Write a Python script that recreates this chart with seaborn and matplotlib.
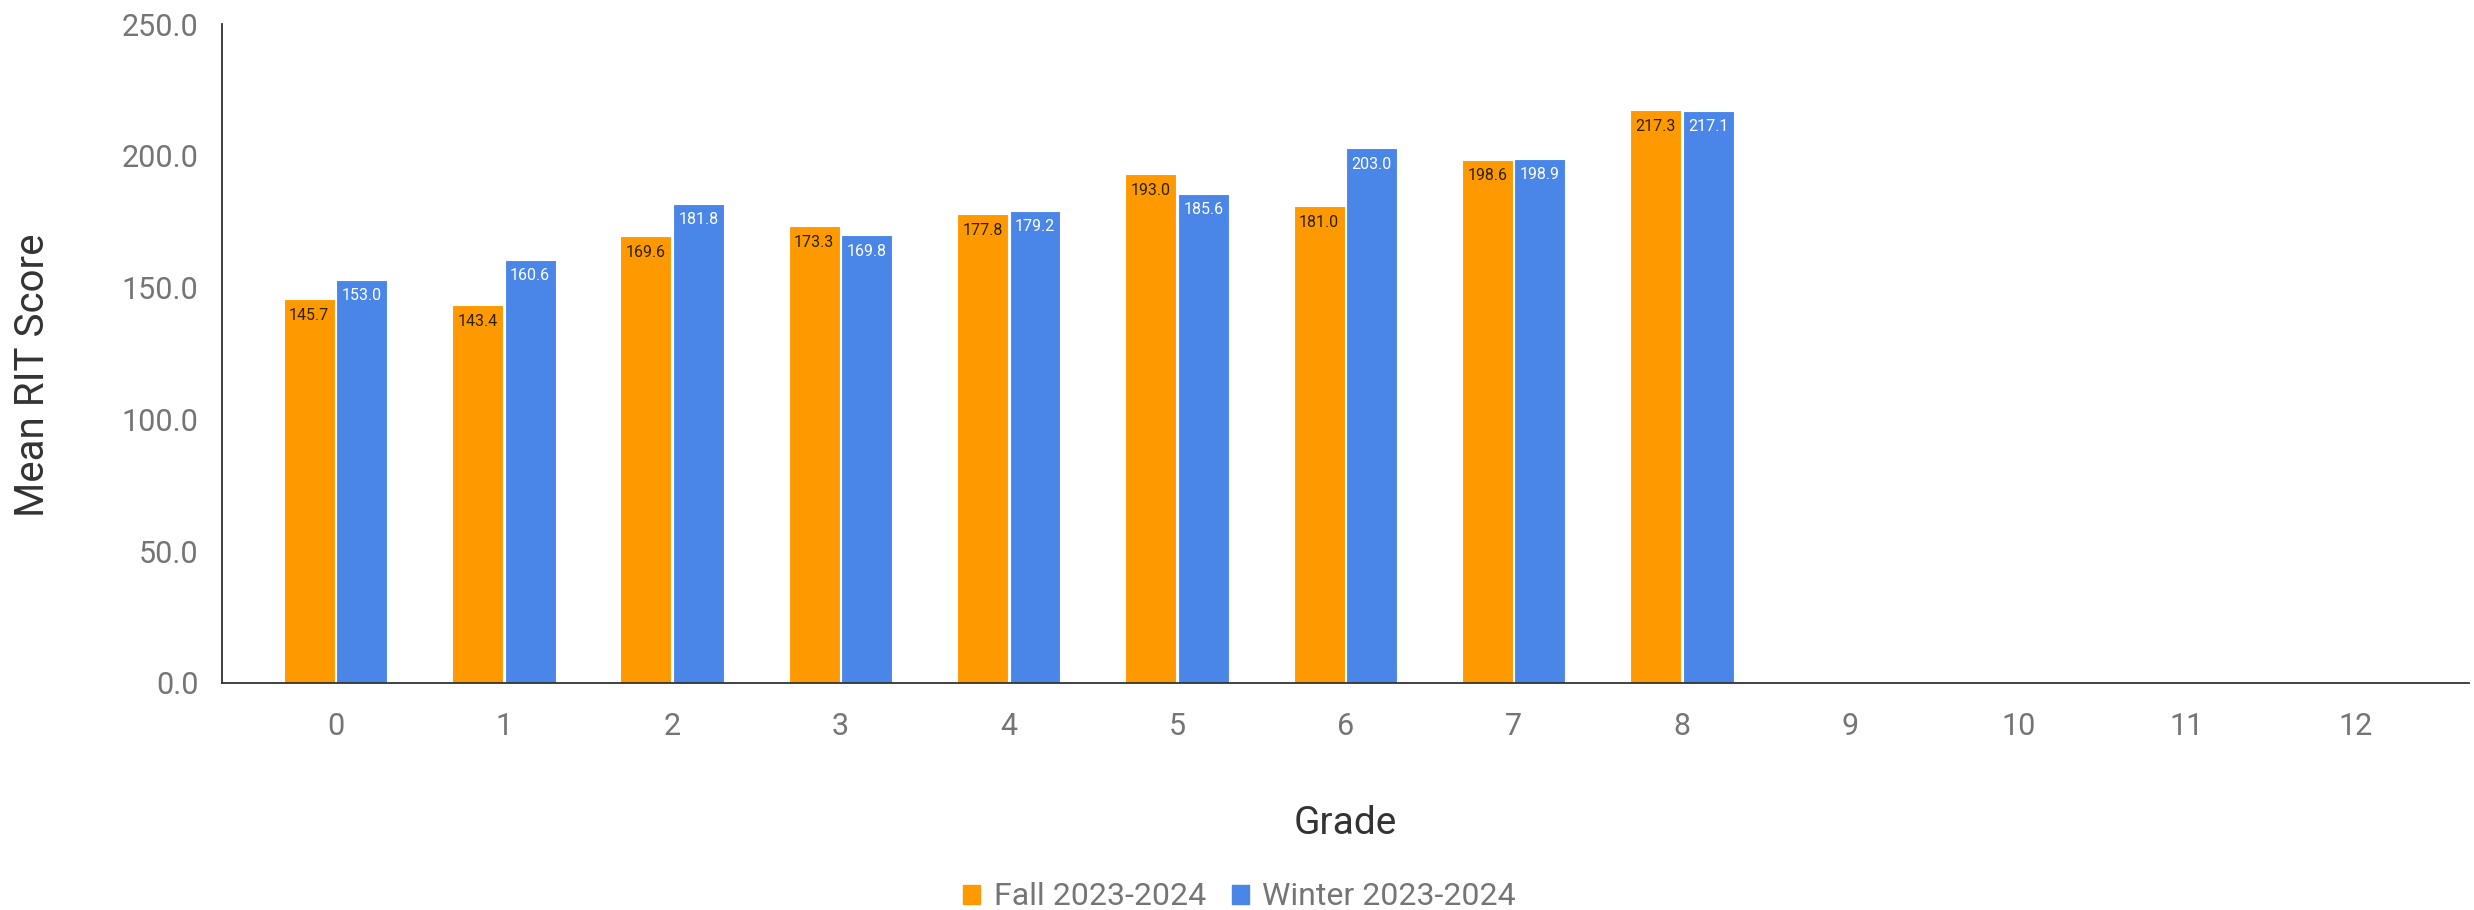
import pandas as pd
import matplotlib
matplotlib.use("Agg")
import matplotlib.pyplot as plt
import seaborn as sns

# data
grades = [str(g) for g in range(13)]
data_grades = ["0", "1", "2", "3", "4", "5", "6", "7", "8"]
fall = [145.7, 143.4, 169.6, 173.3, 177.8, 193.0, 181.0, 198.6, 217.3]
winter = [153.0, 160.6, 181.8, 169.8, 179.2, 185.6, 203.0, 198.9, 217.1]
terms = ["Fall 2023-2024", "Winter 2023-2024"]
colors = ["#FF9900", "#4A86E8"]
yticks = [0, 50, 100, 150, 200, 250]

df = pd.DataFrame({
    "Grade": data_grades * 2,
    "Score": fall + winter,
    "Term": [terms[0]] * len(fall) + [terms[1]] * len(winter),
})

sns.set_style("white")
plt.rcParams["font.family"] = ["Roboto", "DejaVu Sans"]

fig = plt.figure(figsize=(24.74, 9.10), dpi=100)
ax = fig.add_axes([0.0897, 0.2495, 0.9082, 0.7241])

sns.barplot(data=df, x="Grade", y="Score", hue="Term", order=grades,
            hue_order=terms, palette=colors, saturation=1, width=0.624,
            gap=0.03, edgecolor="white", linewidth=0.8, ax=ax, legend=False)

# value labels just inside the top of each bar
label_colors = ["#2d2200", "white"]
for cont, lc in zip(ax.containers, label_colors):
    ax.bar_label(cont, fmt="%.1f", label_type="edge", padding=-17,
                 fontsize=11.5, color=lc)

ax.set_xlim(-0.675, 12.675)
ax.set_ylim(0, 250)
ax.set_yticks(yticks)
ax.set_yticklabels([f"{v:.1f}" for v in yticks])

for side in ["top", "right"]:
    ax.spines[side].set_visible(False)
for side in ["left", "bottom"]:
    ax.spines[side].set_color("#333333")
    ax.spines[side].set_linewidth(1.3)

ax.tick_params(axis="both", direction="inout", length=14, width=1.3,
               color="#333333", labelcolor="#757575", labelsize=22)
ax.tick_params(axis="y", pad=10)
ax.tick_params(axis="x", pad=14)

ax.set_xlabel("Grade", fontsize=28, color="#333333", labelpad=46)
ax.set_ylabel("Mean RIT Score", fontsize=29, color="#333333")
ax.yaxis.set_label_coords(-0.0755, 0.467)

handles = [plt.Rectangle((0, 0), 1, 1, color=c) for c in colors]
fig.legend(handles, terms, loc="center", bbox_to_anchor=(0.501, 0.0143),
           ncol=2, frameon=False, fontsize=23, handlelength=0.55,
           handleheight=0.55, handletextpad=0.42, columnspacing=0.8,
           labelcolor="#757575")

fig.savefig("out.png", dpi=100)
